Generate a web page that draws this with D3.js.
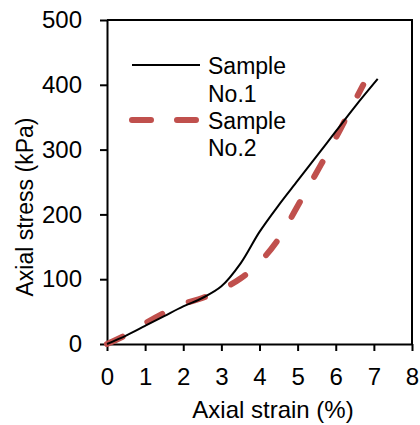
<!DOCTYPE html>
<html>
<head>
<meta charset="utf-8">
<script src="https://cdn.jsdelivr.net/npm/d3@7"></script>
<style>
  html, body { margin: 0; padding: 0; background: #fff; }
  svg { display: block; font-family: "Liberation Sans", Arial, sans-serif; }
</style>
</head>
<body>
<svg id="chart" width="420" height="425"></svg>
<script>
// Stress–strain readings for the two samples
const strain1 = [0, 0.5, 1, 1.5, 2, 2.5, 3, 3.5, 4, 4.5, 5, 5.5, 6, 6.5, 7.1];
const stress1 = [0, 13, 28, 43, 58, 71, 89, 124, 173, 214, 252, 290, 328, 366, 409];
const strain2 = [0, 0.5, 1, 1.5, 2, 2.5, 3, 3.5, 4, 4.5, 5, 5.5, 6, 6.5, 6.72];
const stress2 = [0, 14, 32, 48, 62, 71, 84, 101, 126, 162, 213, 265, 318, 375, 400];

const xTicks = [0, 1, 2, 3, 4, 5, 6, 7, 8];
const yTicks = [0, 100, 200, 300, 400, 500];
const seriesNames = ["Sample\nNo.1", "Sample\nNo.2"];

const svg = d3.select("#chart");
const plotLeft = 107, plotRight = 412, plotTop = 20, plotBottom = 344;

const x = d3.scaleLinear().domain([0, 8]).range([plotLeft, plotRight]);
const y = d3.scaleLinear().domain([0, 500]).range([plotBottom, plotTop]);

// frame: top and right edges
svg.append("path")
  .attr("d", `M${plotLeft},${plotTop}H${plotRight}V${plotBottom}`)
  .attr("fill", "none").attr("stroke", "#000").attr("stroke-width", 2);

const xAxis = svg.append("g")
  .attr("transform", `translate(0,${plotBottom})`)
  .call(d3.axisBottom(x).tickValues(xTicks).tickFormat(d3.format("d"))
    .tickSize(7).tickSizeOuter(0).tickPadding(17));

const yAxis = svg.append("g")
  .attr("transform", `translate(${plotLeft},0)`)
  .call(d3.axisLeft(y).tickValues(yTicks).tickFormat(d3.format("d"))
    .tickSize(7).tickSizeOuter(0).tickPadding(18));

[xAxis, yAxis].forEach(g => {
  g.select(".domain").attr("stroke-width", 2);
  g.selectAll(".tick line").attr("stroke-width", 2);
  g.selectAll(".tick text")
    .attr("font-family", "'Liberation Sans', Arial, sans-serif")
    .attr("font-size", 24).attr("fill", "#000");
});

// axis titles
svg.append("text")
  .attr("x", 273).attr("y", 418)
  .attr("text-anchor", "middle")
  .attr("font-size", 24).attr("fill", "#000")
  .text("Axial strain (%)");

svg.append("text")
  .attr("transform", "translate(33,207) rotate(-90)")
  .attr("text-anchor", "middle")
  .attr("font-size", 23).attr("fill", "#000")
  .text("Axial stress (kPa)");

const line = d3.line()
  .x(d => x(d[0]))
  .y(d => y(d[1]))
  .curve(d3.curveCatmullRom.alpha(0.5));

const red = "#C0504D";

svg.append("path")
  .datum(d3.zip(strain2, stress2))
  .attr("d", line)
  .attr("fill", "none")
  .attr("stroke", red).attr("stroke-width", 6)
  .attr("stroke-linecap", "round")
  .attr("stroke-dasharray", "17,29");

svg.append("path")
  .datum(d3.zip(strain1, stress1))
  .attr("d", line)
  .attr("fill", "none")
  .attr("stroke", "#000").attr("stroke-width", 2);

// legend
const legend = svg.append("g");
legend.append("line")
  .attr("x1", 132).attr("x2", 200).attr("y1", 65).attr("y2", 65)
  .attr("stroke", "#000").attr("stroke-width", 2);
legend.append("line")
  .attr("x1", 132).attr("x2", 196).attr("y1", 120).attr("y2", 120)
  .attr("stroke", red).attr("stroke-width", 6)
  .attr("stroke-linecap", "round")
  .attr("stroke-dasharray", "19,26");

const legendBaselines = [[74, 101.5], [129, 156]];
seriesNames.forEach((name, i) => {
  const t = legend.append("text")
    .attr("font-size", 23).attr("fill", "#000");
  name.split("\n").forEach((part, j) => {
    t.append("tspan")
      .attr("x", 208).attr("y", legendBaselines[i][j])
      .text(part);
  });
});
</script>
</body>
</html>
